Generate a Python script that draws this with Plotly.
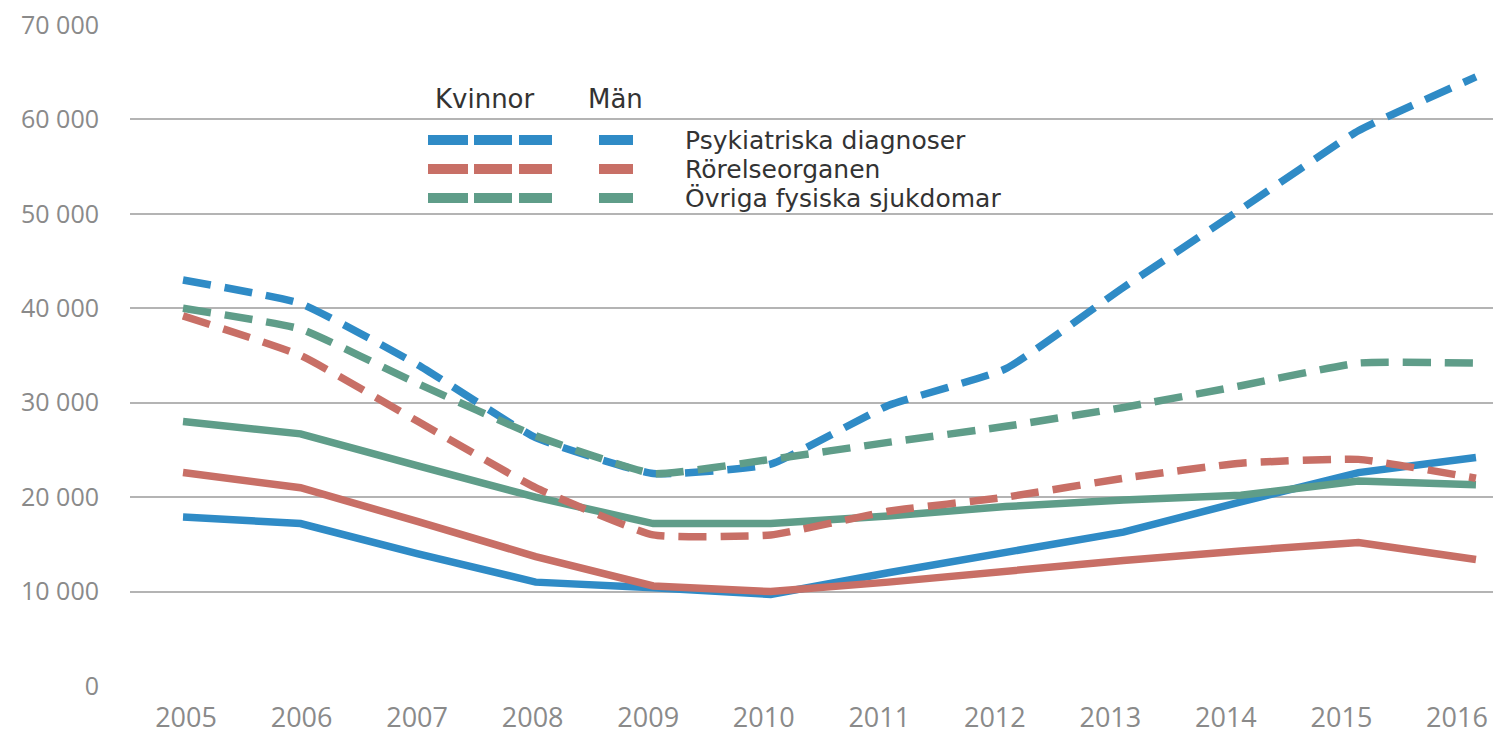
import plotly.graph_objects as go

years = [2005, 2006, 2007, 2008, 2009, 2010, 2011, 2012, 2013, 2014, 2015, 2016]
year_labels = [str(y) for y in years]

# Kvinnor (dashed)
psyk_kvinnor = [43000, 40500, 34000, 26300, 22500, 23500, 29700, 33600, 42200, 50500, 58800, 64500]
rorelse_kvinnor = [39200, 35000, 28000, 21000, 16000, 16000, 18500, 20000, 22000, 23600, 24000, 22000]
ovriga_kvinnor = [40000, 37800, 32000, 26500, 22500, 24000, 25800, 27500, 29500, 31800, 34200, 34200]
# Män (solid)
psyk_man = [17900, 17200, 14000, 11000, 10400, 9700, 12000, 14100, 16300, 19500, 22600, 24200]
rorelse_man = [22600, 21000, 17400, 13700, 10600, 10000, 11000, 12200, 13300, 14300, 15200, 13400]
ovriga_man = [28000, 26700, 23300, 20000, 17200, 17200, 18000, 19000, 19700, 20200, 21700, 21300]

series_names = ["Psykiatriska diagnoser", "Rörelseorganen", "Övriga fysiska sjukdomar"]
y_ticks = [0, 10000, 20000, 30000, 40000, 50000, 60000, 70000]
y_tick_labels = ["0", "10 000", "20 000", "30 000", "40 000", "50 000", "60 000", "70 000"]

BLUE = "#2f8bc6"
RED = "#c86f66"
GREEN = "#5f9d89"
colors = [BLUE, RED, GREEN]

fig = go.Figure()
for vals, c in zip([psyk_man, rorelse_man, ovriga_man], colors):
    fig.add_trace(go.Scatter(x=years, y=vals, mode="lines",
                             line=dict(color=c, width=7.5), showlegend=False))
for vals, c in zip([psyk_kvinnor, rorelse_kvinnor, ovriga_kvinnor], colors):
    fig.add_trace(go.Scatter(x=years, y=vals, mode="lines",
                             line=dict(color=c, width=7.5, dash="28px,14px",
                                       shape="spline", smoothing=0.4),
                             showlegend=False))
# invisible trace that carries the year-label axis
fig.add_trace(go.Scatter(x=years, y=psyk_man, mode="none", xaxis="x2",
                         showlegend=False, hoverinfo="skip"))

# Page has an 8px body margin; place the plot area at screen pixels 130..1501 x 25..686
OFF = 8
SCR_L, SCR_T, SCR_B = 130, 25, 686
FIG_W, FIG_H = 1501 - OFF, 734 - OFF
W = 1501 - SCR_L
H = SCR_B - SCR_T

def px(x):
    return (x - SCR_L) / W

def py(y):
    return (SCR_B - y) / H

legend_family = "DejaVu Sans, sans-serif"
tick_family = "Open Sans, Noto Sans, sans-serif"
head_font = dict(size=26, color="#333333", family=legend_family)
row_font = dict(size=25, color="#333333", family=legend_family)
annotations = [
    dict(x=px(433), y=py(99), xref="paper", yref="paper", text="Kvinnor",
         showarrow=False, xanchor="left", yanchor="middle", font=head_font),
    dict(x=px(586), y=py(99), xref="paper", yref="paper", text="Män",
         showarrow=False, xanchor="left", yanchor="middle", font=head_font),
]
shapes = []
row_y = [140, 169, 198]
for name, c, ry in zip(series_names, colors, row_y):
    annotations.append(dict(x=px(683), y=py(ry), xref="paper", yref="paper", text=name,
                            showarrow=False, xanchor="left", yanchor="middle",
                            font=row_font))
    for x0, x1 in [(428, 468), (474, 512), (519, 552), (599, 633)]:
        shapes.append(dict(type="line", xref="paper", yref="paper",
                           x0=px(x0), x1=px(x1), y0=py(ry), y1=py(ry),
                           line=dict(color=c, width=10)))

fig.update_layout(
    width=FIG_W, height=FIG_H,
    margin=dict(l=SCR_L - OFF, r=0, t=SCR_T - OFF, b=734 - SCR_B, autoexpand=False),
    paper_bgcolor="white", plot_bgcolor="white",
    showlegend=False,
    annotations=annotations,
    shapes=shapes,
    # data axis (no labels)
    xaxis=dict(range=[2004.549, 2016.213], showticklabels=False,
               showgrid=False, zeroline=False, showline=False, ticks=""),
    # label axis: year labels sit slightly tighter than the data points in the reference
    xaxis2=dict(range=[2004.515, 2016.381], overlaying="x", side="bottom", anchor="y",
                tickvals=years, ticktext=year_labels,
                showgrid=False, zeroline=False, showline=False,
                ticks="outside", ticklen=8, tickcolor="rgba(0,0,0,0)",
                ticklabeloverflow="allow",
                tickfont=dict(size=27, color="#8a8a8a", family=tick_family)),
    yaxis=dict(range=[0, 70000], tickvals=y_ticks, ticktext=y_tick_labels,
               showgrid=True, gridcolor="#b4b4b4", gridwidth=1.5,
               zeroline=False, showline=False,
               ticks="outside", ticklen=25, tickcolor="rgba(0,0,0,0)",
               ticklabeloverflow="allow",
               tickfont=dict(size=25, color="#8a8a8a", family=tick_family)),
)

fig.write_html("out.html")
